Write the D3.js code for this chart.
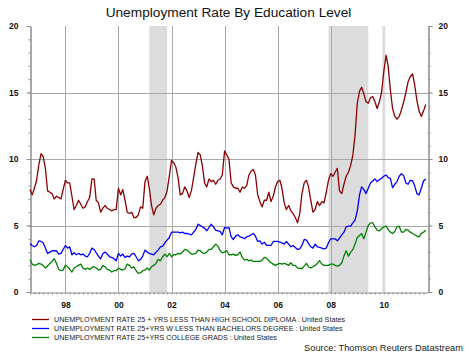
<!DOCTYPE html>
<html>
<head>
<meta charset="utf-8">
<script src="https://cdn.jsdelivr.net/npm/d3@7/dist/d3.min.js"></script>
<style>
  html, body { margin: 0; padding: 0; background: #fff; }
  svg { display: block; }
  text { font-family: "Liberation Sans", Arial, sans-serif; }
</style>
</head>
<body>
<div id="chart"></div>
<script>
// ---- DATA (monthly, Sep 1996 .. Aug 2011) ----
const startMonth = "1996-09";
const endMonth = "2011-09"; // exclusive
const title = "Unemployment Rate By Education Level";
const yTicks = [0, 5, 10, 15, 20];
const xTickYears = [1998, 2000, 2002, 2004, 2006, 2008, 2010];
const recessions = [["2001-03", "2001-11"], ["2007-12", "2009-06"]];
const markerBands = ["2010-01"];
const seriesNames = [
  "UNEMPLOYMENT RATE 25 + YRS LESS THAN HIGH SCHOOL DIPLOMA : United States",
  "UNEMPLOYMENT RATE 25+YRS W LESS THAN BACHELORS DEGREE : United States",
  "UNEMPLOYMENT RATE 25+YRS COLLEGE GRADS : United States"
];
const seriesColors = ["#8b0000", "#0000ff", "#008000"];
const sourceText = "Source: Thomson Reuters Datastream";

const lessThanHS = [
  7.7, 7.3, 7.8, 8.4,
  9.6, 10.4, 10.2, 9.3, 7.6, 7.5, 7.4, 7.0, 7.2, 7.1, 7.0, 7.7,
  8.4, 8.2, 8.2, 7.2, 6.2, 6.5, 6.9, 6.6, 6.3, 6.4, 6.8, 7.1,
  8.5, 8.5, 6.9, 6.7, 6.0, 6.3, 6.5, 6.3, 6.2, 6.1, 6.2, 6.2,
  7.8, 7.3, 7.7, 6.9, 6.0, 5.9, 6.0, 5.6, 5.6, 5.8, 6.4, 6.3,
  8.3, 8.7, 7.8, 6.5, 5.8, 6.3, 6.5, 6.6, 6.9, 7.1, 7.6, 8.7,
  9.9, 9.7, 9.4, 8.6, 7.3, 7.4, 7.9, 7.6, 7.1, 7.6, 8.6, 9.6,
  10.5, 10.3, 9.5, 8.2, 7.9, 8.5, 8.3, 8.4, 8.1, 8.4, 8.5, 8.8,
  10.6, 10.3, 10.0, 8.2, 7.9, 7.8, 7.8, 7.5, 7.9, 7.8, 8.0, 8.8,
  9.1, 9.2, 8.8, 7.3, 6.8, 6.4, 6.9, 6.9, 7.5, 6.8, 7.2, 7.9,
  8.3, 8.4, 7.8, 6.7, 6.2, 6.5, 6.1, 5.9, 5.6, 5.2, 5.9, 7.4,
  8.2, 8.4, 7.9, 6.9, 6.0, 6.2, 6.8, 6.5, 6.8, 6.7, 7.5, 8.4,
  8.9, 8.7, 9.0, 9.3, 7.6, 7.4, 8.1, 8.7, 9.0, 9.5, 10.3, 11.8,
  14.2, 15.1, 15.4, 14.9, 14.3, 14.2, 14.6, 14.7, 14.3, 13.8, 14.3, 15.0,
  16.6, 17.8, 17.0, 15.2, 13.8, 13.2, 13.0, 13.2, 13.7, 14.3, 15.0, 15.8,
  16.2, 16.4, 15.6, 14.4, 13.6, 13.2, 13.6, 14.1
];
const lessThanBachelors = [
  3.65, 3.5, 3.4, 3.5,
  3.85, 3.8, 3.7, 3.3, 2.9, 3.0, 3.1, 3.1, 3.1, 2.85, 2.9, 3.2,
  3.5, 3.3, 3.4, 2.8, 2.95, 2.8, 2.9, 2.8, 2.85, 2.7, 2.65, 2.9,
  3.3, 3.2, 2.95, 2.7, 2.5, 2.9, 3.0, 2.85, 2.65, 2.6, 2.5, 2.35,
  2.9, 2.7, 2.85, 2.6, 2.7, 2.65, 2.85, 2.9, 2.65, 2.35, 2.45, 2.7,
  3.15, 3.0, 2.9, 2.85, 2.8, 3.0, 3.15, 3.4, 3.45, 3.7, 3.9, 4.1,
  4.5, 4.5, 4.5, 4.5, 4.45, 4.5, 4.4, 4.4, 4.35, 4.3, 4.5, 4.7,
  5.1, 5.0, 4.9, 4.8, 4.6, 4.85, 5.1, 4.9, 4.65, 4.6, 4.55, 4.3,
  4.85, 4.8, 4.85, 4.15, 3.95, 4.2, 4.3, 4.15, 4.1, 4.0, 4.15, 4.2,
  4.3, 4.4, 4.2, 3.8, 3.85, 3.6, 3.75, 3.5, 3.5, 3.5, 3.8, 3.8,
  3.8, 3.75, 3.7, 3.6, 3.8, 3.6, 3.4, 3.5, 3.35, 3.2, 3.25, 3.5,
  3.95, 3.9, 3.65, 3.4, 3.3, 3.6, 3.4, 3.35, 3.3, 3.25, 3.3, 3.7,
  4.0, 4.0, 4.0, 3.85, 4.05, 4.3, 4.5, 4.9, 4.95, 4.95, 5.2, 5.4,
  6.1, 7.3, 7.9, 7.7, 7.4, 7.8, 8.2, 8.35, 8.5, 8.3, 8.45, 8.55,
  8.7, 8.8, 8.6, 8.55, 7.85, 8.1, 8.3, 8.7, 8.9, 8.75, 8.2, 8.1,
  8.4, 8.35, 8.0, 7.4, 7.3, 7.8, 8.35, 8.5
];
const collegeGrads = [
  2.45, 2.1, 2.0, 2.05,
  2.15, 2.1, 2.0, 1.8, 1.95, 2.15, 2.3, 2.5, 2.15, 1.7, 1.6, 1.65,
  2.0, 1.9, 1.7, 1.5, 1.8, 1.9, 2.0, 2.1, 1.8, 1.7, 1.8, 1.7,
  1.85, 1.9, 1.8, 1.65, 1.7, 2.0, 1.9, 1.7, 1.65, 1.5, 1.6, 1.6,
  1.8, 1.7, 1.65, 1.75, 2.1, 2.0, 1.8, 1.9, 1.6, 1.4, 1.45, 1.6,
  1.65, 1.8, 1.65, 1.9, 2.0, 2.15, 2.45, 2.35, 2.65, 2.85, 2.65, 2.9,
  2.65, 2.8, 2.8, 2.9, 2.85, 3.0, 3.2, 3.15, 3.0, 2.85, 2.85, 2.9,
  3.15, 3.1, 2.95, 2.9, 3.0, 3.2, 3.2, 3.4, 3.6, 3.45, 3.1, 2.95,
  3.0, 3.1, 2.8, 2.8, 2.85, 2.75, 2.8, 3.0, 2.6, 2.4, 2.45, 2.35,
  2.4, 2.3, 2.3, 2.3, 2.3, 2.4, 2.6, 2.55, 2.35, 2.2, 2.1, 2.0,
  2.1, 2.15, 2.1, 2.15, 2.1, 2.0, 2.2, 2.0, 2.0, 1.8, 1.8, 1.75,
  1.95, 2.15, 1.9, 1.8, 1.9, 2.0, 2.15, 2.35, 2.1, 2.0, 2.0, 2.0,
  2.1, 2.1, 2.0, 1.95, 2.0, 2.2, 2.7, 3.1, 2.7, 3.0, 3.2, 3.6,
  4.1, 4.25, 4.4, 4.0, 4.5, 5.0, 5.2, 5.2, 4.9, 4.65, 4.6, 4.75,
  4.9, 4.95, 4.7, 4.5, 4.4, 4.55, 4.9, 4.95, 4.5, 4.5, 4.7, 4.65,
  4.5, 4.4, 4.3, 4.2, 4.15, 4.4, 4.5, 4.65
];

// ---- CHART ----
const W = 469, H = 356;
const parseM = d3.timeParse("%Y-%m");
const months = d3.timeMonth.range(parseM(startMonth), parseM(endMonth));
const series = [lessThanHS, lessThanBachelors, collegeGrads];

const svg = d3.select("#chart").append("svg").attr("width", W).attr("height", H);

const x = d3.scaleTime().domain([parseM(startMonth), parseM(endMonth)]).range([30, 428]);
const y = d3.scaleLinear().domain([0, 20]).range([292, 26]);

const gridColor = "#a8a8a8";
const axisColor = "#8c8c8c";

// recession shading
svg.append("g").selectAll("rect").data(recessions).join("rect")
  .attr("x", d => x(parseM(d[0])))
  .attr("width", d => x(parseM(d[1])) - x(parseM(d[0])))
  .attr("y", y(20)).attr("height", y(0) - y(20))
  .attr("fill", "#dcdcdc");
svg.append("g").selectAll("rect").data(markerBands).join("rect")
  .attr("x", d => x(parseM(d)) - 1.5)
  .attr("width", 3)
  .attr("y", y(20)).attr("height", y(0) - y(20))
  .attr("fill", "#dcdcdc");

// gridlines
const grid = svg.append("g");
grid.selectAll(".hg").data(yTicks.filter(v => v > 0 && v < 20)).join("line")
  .attr("x1", 30).attr("x2", 428)
  .attr("y1", d => Math.round(y(d)) + 0.5).attr("y2", d => Math.round(y(d)) + 0.5)
  .attr("stroke", gridColor).attr("stroke-width", 1);
grid.selectAll(".vg").data(xTickYears.filter(yr => yr !== 2010)).join("line")
  .attr("x1", d => Math.round(x(new Date(d, 0, 1))) + 0.5)
  .attr("x2", d => Math.round(x(new Date(d, 0, 1))) + 0.5)
  .attr("y1", y(20)).attr("y2", y(0))
  .attr("stroke", gridColor).attr("stroke-width", 1);

// axes
function styleAxis(g) {
  g.select(".domain").attr("stroke", axisColor);
  g.selectAll(".tick line").attr("stroke", axisColor);
  g.selectAll("text").attr("font-size", "8.5px").attr("font-weight", "bold")
    .attr("fill", "#111").attr("font-family", '"Liberation Sans", Arial, sans-serif');
}
const minorY = d3.range(0, 21);
svg.append("g").attr("transform", "translate(30.5,0)")
  .call(d3.axisLeft(y).tickValues(minorY).tickSize(2).tickFormat("").tickSizeOuter(0))
  .call(styleAxis);
svg.append("g").attr("transform", "translate(30.5,0)")
  .call(d3.axisLeft(y).tickValues(yTicks).tickSize(4).tickPadding(8).tickFormat(d3.format("d")).tickSizeOuter(0))
  .call(styleAxis);
svg.append("g").attr("transform", "translate(428.5,0)")
  .call(d3.axisRight(y).tickValues(minorY).tickSize(2).tickFormat("").tickSizeOuter(0))
  .call(styleAxis);
svg.append("g").attr("transform", "translate(428.5,0)")
  .call(d3.axisRight(y).tickValues(yTicks).tickSize(4).tickPadding(6).tickFormat(d3.format("d")).tickSizeOuter(0))
  .call(styleAxis);

const minorX = d3.timeMonth.every(2).range(parseM(startMonth), parseM(endMonth));
svg.append("g").attr("transform", "translate(0,292.5)")
  .call(d3.axisBottom(x).tickValues(minorX).tickSize(2).tickFormat("").tickSizeOuter(0))
  .call(styleAxis);
svg.append("g").attr("transform", "translate(0,292.5)")
  .call(d3.axisBottom(x).tickValues(xTickYears.map(yr => new Date(yr, 0, 1))).tickSize(0).tickPadding(9)
    .tickFormat(d3.timeFormat("%y")).tickSizeOuter(0))
  .call(styleAxis)
  .call(g => g.select(".domain").remove());

// lines
const line = d3.line().x((d, i) => x(months[i])).y(d => y(d));
svg.append("g").selectAll("path").data(series).join("path")
  .attr("d", d => line(d))
  .attr("fill", "none")
  .attr("stroke", (d, i) => seriesColors[i])
  .attr("stroke-width", 1.3)
  .attr("stroke-linejoin", "round");

// title
svg.append("text").attr("x", 228.5).attr("y", 17).attr("text-anchor", "middle")
  .attr("font-size", "13.7px").attr("fill", "#111").text(title);

// legend
const leg = svg.append("g");
seriesNames.forEach((name, i) => {
  const ly = 319 + i * 9;
  leg.append("line").attr("x1", 32).attr("x2", 49).attr("y1", ly + 0.5).attr("y2", ly + 0.5)
    .attr("stroke", seriesColors[i]).attr("stroke-width", 1.3);
  leg.append("text").attr("x", 54).attr("y", ly).attr("dy", "0.35em")
    .attr("font-size", "7.2px").attr("fill", "#222").text(name);
});

// source
svg.append("text").attr("x", 463).attr("y", 351).attr("text-anchor", "end")
  .attr("font-size", "9.3px").attr("fill", "#222").text(sourceText);
</script>
</body>
</html>
